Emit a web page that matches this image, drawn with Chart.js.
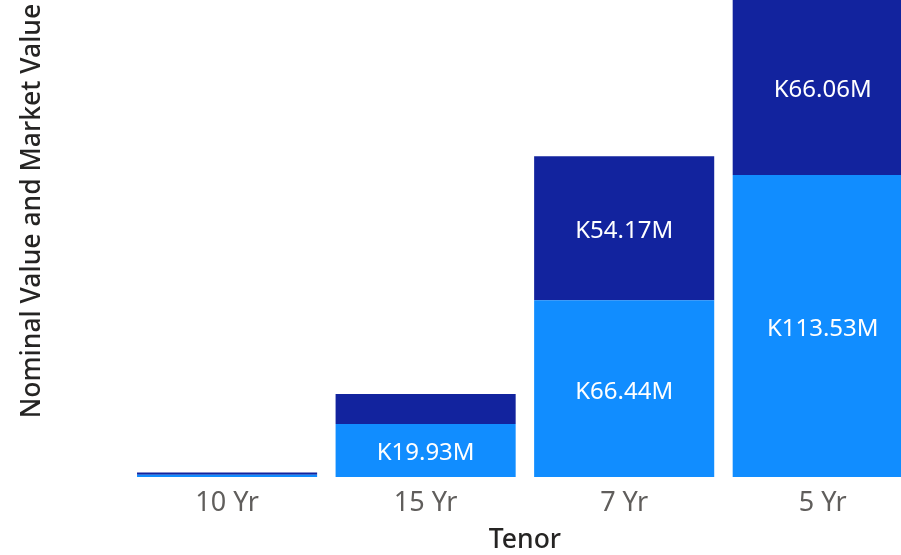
<!DOCTYPE html>
<html>
<head>
<meta charset="utf-8">
<script src="https://cdn.jsdelivr.net/npm/chart.js@4"></script>
<style>
    html, body { margin: 0; padding: 0; background: #fff; overflow: hidden; }
    #wrap { position: absolute; left: 0; top: -55px; }
</style>
</head>
<body>
<div id="wrap"><canvas id="chart" width="922" height="610"></canvas></div>
<script>
// Chart data (millions)
const tenors = ['10 Yr', '15 Yr', '7 Yr', '5 Yr'];
const nominalValues = [0.9, 19.93, 66.44, 113.53];
const marketValues = [0.85, 11.3, 54.17, 66.06];

const FONT = "'Noto Sans', 'Open Sans', sans-serif";
const HIDDEN_TOP = 55; // part of the canvas above the window

// Draw value labels inside the bar segments (hidden when the segment is too small)
const barLabels = {
    id: 'barLabels',
    afterDatasetsDraw(chart) {
        const ctx = chart.ctx;
        ctx.save();
        ctx.font = '24px ' + FONT;
        ctx.fillStyle = '#ffffff';
        ctx.textAlign = 'center';
        ctx.textBaseline = 'middle';
        chart.data.datasets.forEach((ds, i) => {
            chart.getDatasetMeta(i).data.forEach((bar, j) => {
                const { x, y, base } = bar.getProps(['x', 'y', 'base'], true);
                if (Math.abs(base - y) < 40) return;
                const top = Math.max(y, HIDDEN_TOP);
                ctx.fillText('K' + ds.data[j].toFixed(2) + 'M', x, (top + base) / 2 + 3);
            });
        });
        ctx.restore();
    }
};

new Chart(document.getElementById('chart'), {
    type: 'bar',
    data: {
        labels: tenors,
        datasets: [{
            label: 'Nominal Value',
            data: nominalValues,
            backgroundColor: '#118DFF'
        }, {
            label: 'Market Value',
            data: marketValues,
            backgroundColor: '#12239E'
        }]
    },
    options: {
        responsive: false,
        animation: false,
        devicePixelRatio: 1,
        layout: { padding: 0 },
        datasets: {
            bar: { categoryPercentage: 1, barPercentage: 0.907 }
        },
        plugins: {
            legend: { display: false },
            tooltip: { enabled: false }
        },
        scales: {
            x: {
                stacked: true,
                grid: { display: false, drawTicks: false },
                border: { display: false },
                ticks: { color: '#605E5C', font: { family: FONT, size: 27 }, padding: 10 },
                title: {
                    display: true,
                    text: 'Tenor',
                    color: '#252423',
                    font: { family: FONT, size: 26.5, weight: '500', lineHeight: 1.0 },
                    padding: { top: -2, bottom: 1 }
                }
            },
            y: {
                stacked: true,
                min: 0,
                max: 200,
                grid: { display: false, drawTicks: false },
                border: { display: false },
                ticks: { display: false },
                title: {
                    display: true,
                    text: 'Nominal Value and Market Value',
                    color: '#252423',
                    font: { family: FONT, size: 26.5, weight: '500' },
                    padding: { top: 17, bottom: 79 }
                }
            }
        }
    },
    plugins: [barLabels]
});
</script>
</body>
</html>
